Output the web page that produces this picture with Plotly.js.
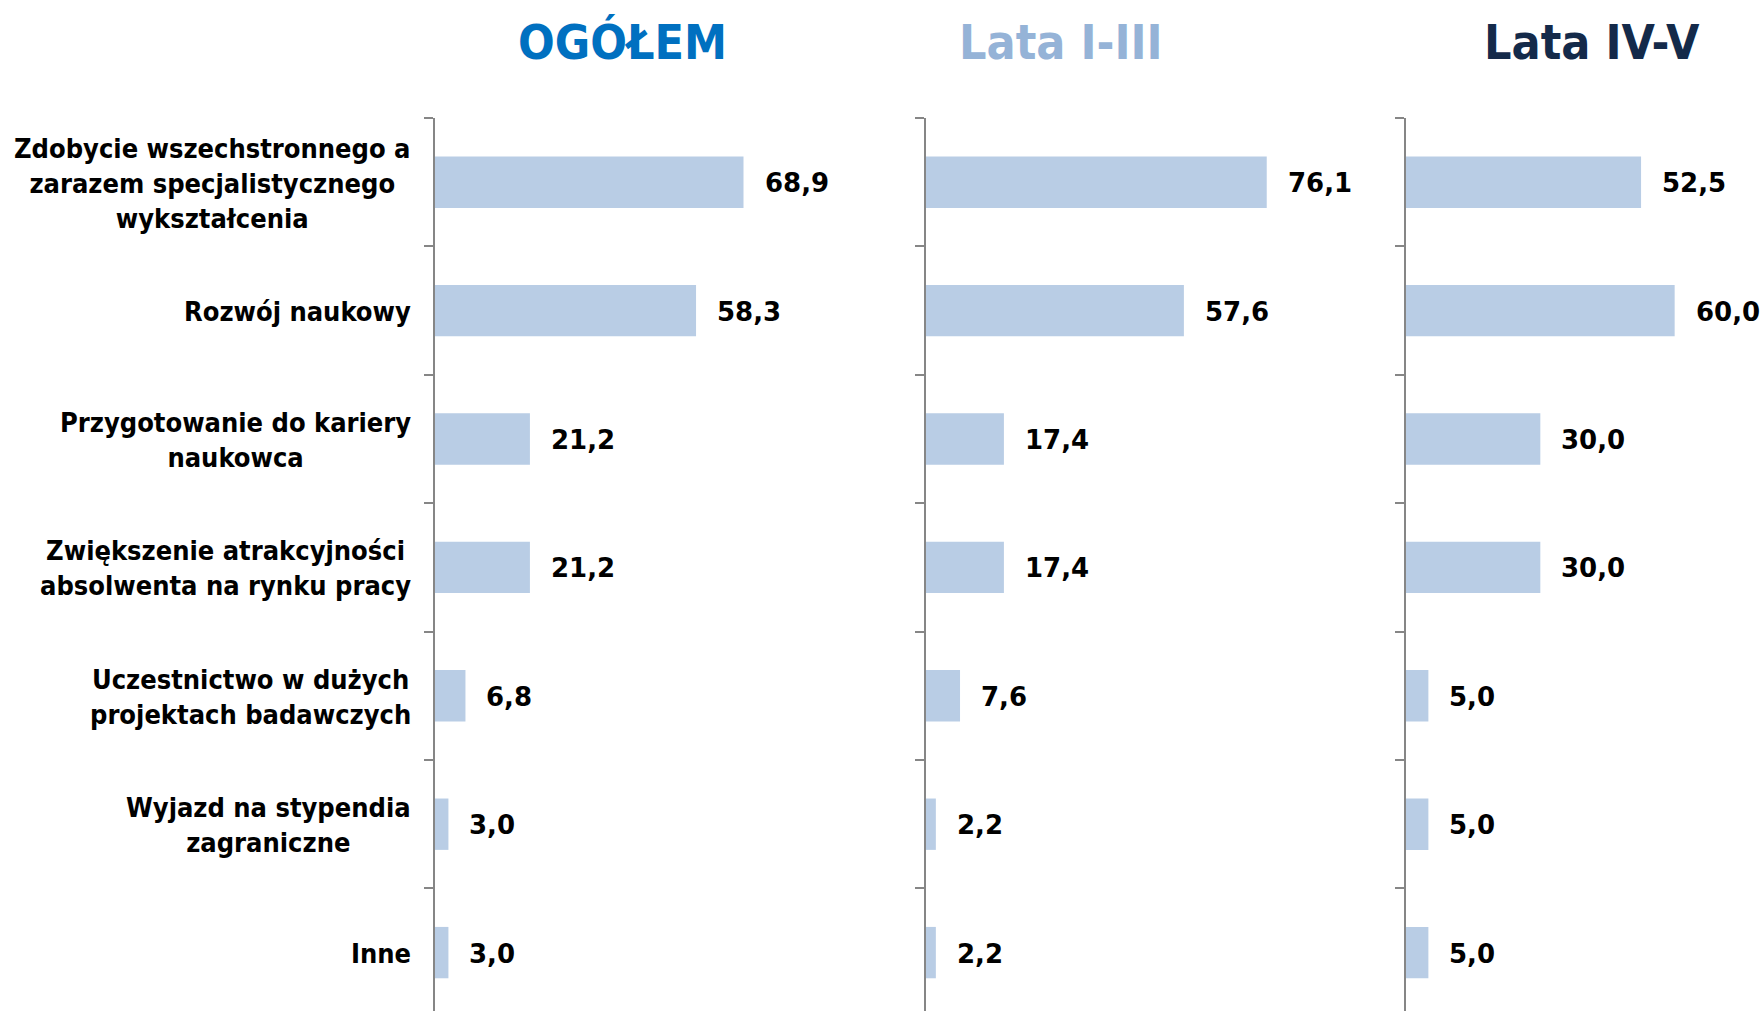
<!DOCTYPE html>
<html>
<head>
<meta charset="utf-8">
<script src="https://cdn.plot.ly/plotly-3.0.1.min.js"></script>
<style>html,body{margin:0;padding:0;background:#fff;}#chart{width:1764px;height:1011px;}</style>
</head>
<body>
<div id="chart"></div>
<script>
// ---- data ----
const categories = [
  "Zdobycie wszechstronnego a<br>zarazem specjalistycznego<br>wykształcenia",
  "Rozwój naukowy",
  "Przygotowanie do kariery<br>naukowca",
  "Zwiększenie atrakcyjności<br>absolwenta na rynku pracy",
  "Uczestnictwo w dużych<br>projektach badawczych",
  "Wyjazd na stypendia<br>zagraniczne",
  "Inne"
];
const panelTitles = ["OGÓŁEM", "Lata I-III", "Lata IV-V"];
const valuesOgolem = [68.9, 58.3, 21.2, 21.2, 6.8, 3.0, 3.0];
const valuesLata13 = [76.1, 57.6, 17.4, 17.4, 7.6, 2.2, 2.2];
const valuesLata45 = [52.5, 60.0, 30.0, 30.0, 5.0, 5.0, 5.0];

// ---- layout helpers ----
const W = 1764, H = 1011;
const series = [valuesOgolem, valuesLata13, valuesLata45];
const titleColors = ["#0070C0", "#95B3D7", "#142A4A"];
const titleCenters = [622, 1061, 1592];
const panelPx = [[435, 900], [926, 1390], [1406, 1764]];
const pxPerUnit = 4.4775;
const barColor = "#B9CDE5";
const axisColor = "#868686";
const plotTop = 118;
const bandPx = 128.4;
const yBottom = -0.5 + (H - plotTop) / bandPx;

const traces = [];
const annotations = [];
const layout = {
  width: W, height: H,
  margin: {l: 0, r: 0, t: 0, b: 0},
  paper_bgcolor: "#fff", plot_bgcolor: "rgba(0,0,0,0)",
  showlegend: false,
  bargap: 0.6,
  annotations: annotations
};

series.forEach((vals, i) => {
  const sfx = i === 0 ? "" : String(i + 1);
  traces.push({
    type: "bar", orientation: "h",
    x: vals, y: categories,
    xaxis: "x" + sfx, yaxis: "y" + sfx,
    marker: {color: barColor},
    width: 0.4,
    hoverinfo: "none"
  });
  const [p0, p1] = panelPx[i];
  layout["xaxis" + sfx] = {
    domain: [p0 / W, p1 / W],
    range: [0, (p1 - p0) / pxPerUnit],
    showgrid: false, zeroline: false, showline: false,
    showticklabels: false, ticks: "", fixedrange: true,
    anchor: "y" + sfx
  };
  layout["yaxis" + sfx] = {
    domain: [0, 1 - plotTop / H],
    type: "category",
    categoryorder: "array", categoryarray: categories,
    range: [yBottom, -0.5],
    anchor: "x" + sfx,
    showline: true, linecolor: axisColor, linewidth: 2,
    ticks: "outside", tickson: "boundaries", ticklen: 9, tickwidth: 2, tickcolor: axisColor,
    showticklabels: false, showgrid: false, zeroline: false, fixedrange: true
  };
  vals.forEach((v, k) => {
    annotations.push({
      xref: "x" + sfx, yref: "y" + sfx,
      x: v, y: categories[k],
      text: v.toFixed(1).replace(".", ","),
      showarrow: false, xanchor: "left", yanchor: "middle",
      xshift: 19, yshift: -1,
      font: {family: "DejaVu Sans", size: 26, color: "#000", weight: "bold"}
    });
  });
  annotations.push({
    xref: "paper", yref: "paper",
    x: titleCenters[i] / W, y: 1 - 42 / H,
    text: "<b>" + panelTitles[i] + "</b>",
    showarrow: false, xanchor: "center", yanchor: "middle",
    font: {family: "DejaVu Sans Condensed", size: 48, color: titleColors[i]}
  });
});

categories.forEach((c) => {
  annotations.push({
    xref: "paper", yref: "y",
    x: 413 / W, y: c,
    text: c, showarrow: false,
    xanchor: "right", yanchor: "middle", align: "center",
    yshift: -1,
    font: {family: "DejaVu Sans Condensed", size: 27, color: "#000", weight: "bold"}
  });
});

Plotly.newPlot("chart", traces, layout, {displayModeBar: false, staticPlot: true});
</script>
</body>
</html>
